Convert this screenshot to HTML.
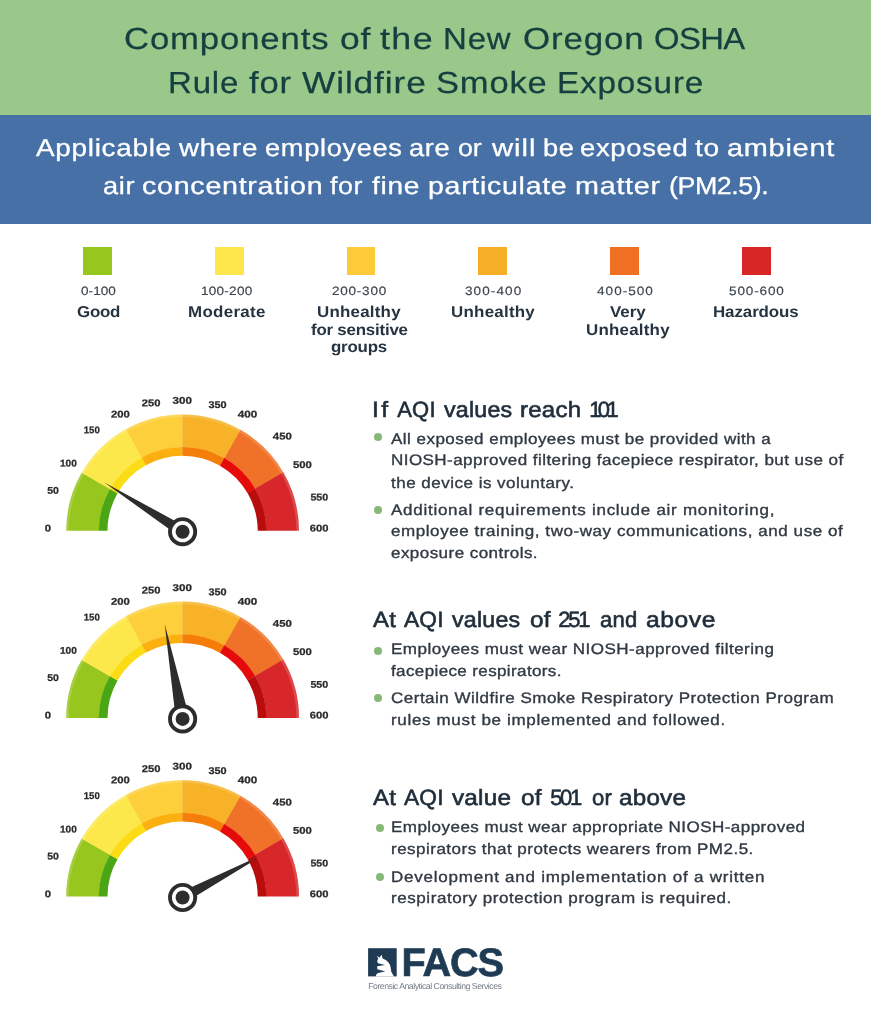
<!DOCTYPE html>
<html lang="en"><head><meta charset="utf-8"><title>Components of the New Oregon OSHA Rule for Wildfire Smoke Exposure</title>
<style>
html,body{margin:0;padding:0;background:#fff}
#page{position:relative;width:871px;height:1024px;overflow:hidden;background:#fff;font-family:"Liberation Sans",sans-serif;text-rendering:geometricPrecision}
h1,h2,p,ul,li{margin:0;padding:0;font-weight:normal;font-size:inherit;list-style:none}
.band{position:absolute;left:0;width:871px}
#green{top:0;height:115px;background:#99c88a}
#blue{top:115px;height:109px;background:#4771a6}
.ln{position:absolute;white-space:nowrap;line-height:1;transform-origin:0 0}
.t{color:#15403f;-webkit-text-stroke:0.25px #15403f}
.s{color:#fff;-webkit-text-stroke:0.3px #fff}
.r{color:#3b434c;-webkit-text-stroke:0.15px #3b434c}
.n{color:#263442;font-weight:bold}
.h{color:#1f2d3a;-webkit-text-stroke:0.6px #1f2d3a}
.b{color:#303943;-webkit-text-stroke:0.35px #303943}
.lg{color:#1f3b54;font-weight:bold;-webkit-text-stroke:0.7px #1f3b54}
.ls{color:#737d87}
.sw{position:absolute;top:246.5px;width:28.8px;height:28px}
.dot{position:absolute;width:8.2px;height:8.2px;border-radius:50%;background:#85b877}
svg{position:absolute;left:0;top:0}
.gl{font-family:"Liberation Sans",sans-serif;font-weight:bold;font-size:9.8px;fill:#2a2a2a;stroke:#2a2a2a;stroke-width:0.25px}

</style></head><body><div id="page">
<div class="band" id="green"></div><div class="band" id="blue"></div>
<h1><span class="ln t" id="l0" style="left:124.06px;top:23.67px;font-size:30.4px;letter-spacing:0.760px;transform:scaleX(1.1418);">Components</span> <span class="ln t" id="l1" style="left:339.83px;top:23.67px;font-size:30.4px;letter-spacing:0.760px;transform:scaleX(1.1652);">of</span> <span class="ln t" id="l2" style="left:380.10px;top:23.67px;font-size:30.4px;letter-spacing:1.192px;transform:scaleX(1.1800);">the</span> <span class="ln t" id="l3" style="left:442.73px;top:23.67px;font-size:30.4px;letter-spacing:0.760px;transform:scaleX(1.0852);">New</span> <span class="ln t" id="l4" style="left:522.95px;top:23.67px;font-size:30.4px;letter-spacing:0.760px;transform:scaleX(1.1480);">Oregon</span> <span class="ln t" id="l5" style="left:654.22px;top:23.67px;font-size:30.4px;letter-spacing:-0.563px;transform:scaleX(1.0800);">OSHA</span> <span class="ln t" id="l6" style="left:167.93px;top:67.57px;font-size:30.4px;letter-spacing:0.760px;transform:scaleX(1.0860);">Rule</span> <span class="ln t" id="l7" style="left:248.80px;top:67.57px;font-size:30.4px;letter-spacing:0.760px;transform:scaleX(1.1393);">for</span> <span class="ln t" id="l8" style="left:301.60px;top:67.57px;font-size:30.4px;letter-spacing:0.760px;transform:scaleX(1.1606);">Wildfire</span> <span class="ln t" id="l9" style="left:436.47px;top:67.57px;font-size:30.4px;letter-spacing:0.760px;transform:scaleX(1.1345);">Smoke</span> <span class="ln t" id="l10" style="left:557.31px;top:67.57px;font-size:30.4px;letter-spacing:0.760px;transform:scaleX(1.0940);">Exposure</span></h1>
<p><span class="ln s" id="l11" style="left:35.70px;top:136.55px;font-size:24.4px;letter-spacing:0.610px;transform:scaleX(1.1441);">Applicable</span> <span class="ln s" id="l12" style="left:179.14px;top:136.55px;font-size:24.4px;letter-spacing:0.610px;transform:scaleX(1.1370);">where</span> <span class="ln s" id="l13" style="left:264.89px;top:136.55px;font-size:24.4px;letter-spacing:0.610px;transform:scaleX(1.1148);">employees</span> <span class="ln s" id="l14" style="left:409.28px;top:136.55px;font-size:24.4px;letter-spacing:0.610px;transform:scaleX(1.1172);">are</span> <span class="ln s" id="l15" style="left:457.90px;top:136.55px;font-size:24.4px;letter-spacing:-0.110px;transform:scaleX(1.1000);">or</span> <span class="ln s" id="l16" style="left:491.50px;top:136.55px;font-size:24.4px;letter-spacing:0.794px;transform:scaleX(1.2000);">will</span> <span class="ln s" id="l17" style="left:542.68px;top:136.55px;font-size:24.4px;letter-spacing:0.610px;transform:scaleX(1.1156);">be</span> <span class="ln s" id="l18" style="left:579.88px;top:136.55px;font-size:24.4px;letter-spacing:0.610px;transform:scaleX(1.1242);">exposed</span> <span class="ln s" id="l19" style="left:694.60px;top:136.55px;font-size:24.4px;letter-spacing:0.610px;transform:scaleX(1.1527);">to</span> <span class="ln s" id="l20" style="left:727.21px;top:136.55px;font-size:24.4px;letter-spacing:0.610px;transform:scaleX(1.1856);">ambient</span> <span class="ln s" id="l21" style="left:102.99px;top:174.75px;font-size:24.4px;letter-spacing:0.610px;transform:scaleX(1.1138);">air</span> <span class="ln s" id="l22" style="left:142.03px;top:174.75px;font-size:24.4px;letter-spacing:0.610px;transform:scaleX(1.1746);">concentration</span> <span class="ln s" id="l23" style="left:330.00px;top:174.75px;font-size:24.4px;letter-spacing:0.466px;transform:scaleX(1.1000);">for</span> <span class="ln s" id="l24" style="left:372.10px;top:174.75px;font-size:24.4px;letter-spacing:0.610px;transform:scaleX(1.1530);">fine</span> <span class="ln s" id="l25" style="left:428.43px;top:174.75px;font-size:24.4px;letter-spacing:0.610px;transform:scaleX(1.1694);">particulate</span> <span class="ln s" id="l26" style="left:574.82px;top:174.75px;font-size:24.4px;letter-spacing:0.610px;transform:scaleX(1.1794);">matter</span> <span class="ln s" id="l27" style="left:668.80px;top:174.75px;font-size:24.4px;letter-spacing:-0.417px;transform:scaleX(1.1000);">(PM2.5).</span></p>
<ul id="legend">
<li><i class="sw" style="left:83.3px;background:#97c61e"></i><span class="ln r" id="l28" style="left:80.70px;top:285.46px;font-size:12.1px;letter-spacing:0.056px;transform:scaleX(1.1200);">0-100</span><b><span class="ln n" id="l34" style="left:76.55px;top:305.03px;font-size:15.8px;letter-spacing:-0.227px;transform:scaleX(1.0700);">Good</span></b></li>
<li><i class="sw" style="left:214.9px;background:#fde74c"></i><span class="ln r" id="l29" style="left:201.35px;top:285.46px;font-size:12.1px;letter-spacing:0.221px;transform:scaleX(1.1200);">100-200</span><b><span class="ln n" id="l35" style="left:188.43px;top:305.03px;font-size:15.8px;letter-spacing:0.307px;transform:scaleX(1.0700);">Moderate</span></b></li>
<li><i class="sw" style="left:346.6px;background:#fdcb3a"></i><span class="ln r" id="l30" style="left:331.95px;top:285.46px;font-size:12.1px;letter-spacing:0.667px;transform:scaleX(1.1200);">200-300</span><b><span class="ln n" id="l36" style="left:317.10px;top:305.03px;font-size:15.8px;letter-spacing:0.218px;transform:scaleX(1.0700);">Unhealthy</span> <span class="ln n" id="l37" style="left:310.70px;top:322.53px;font-size:15.8px;letter-spacing:-0.203px;transform:scaleX(1.0700);">for sensitive</span> <span class="ln n" id="l38" style="left:331.25px;top:340.03px;font-size:15.8px;letter-spacing:-0.188px;transform:scaleX(1.0700);">groups</span></b></li>
<li><i class="sw" style="left:478.3px;background:#f5ae25"></i><span class="ln r" id="l31" style="left:464.75px;top:285.46px;font-size:12.1px;letter-spacing:0.965px;transform:scaleX(1.1200);">300-400</span><b><span class="ln n" id="l39" style="left:451.00px;top:305.03px;font-size:15.8px;letter-spacing:0.241px;transform:scaleX(1.0700);">Unhealthy</span></b></li>
<li><i class="sw" style="left:610.3px;background:#f07023"></i><span class="ln r" id="l32" style="left:596.50px;top:285.46px;font-size:12.1px;letter-spacing:0.920px;transform:scaleX(1.1200);">400-500</span><b><span class="ln n" id="l40" style="left:609.50px;top:305.03px;font-size:15.8px;letter-spacing:-0.047px;transform:scaleX(1.0700);">Very</span> <span class="ln n" id="l41" style="left:585.50px;top:322.53px;font-size:15.8px;letter-spacing:0.218px;transform:scaleX(1.0700);">Unhealthy</span></b></li>
<li><i class="sw" style="left:742.0px;background:#d72626"></i><span class="ln r" id="l33" style="left:728.80px;top:285.46px;font-size:12.1px;letter-spacing:0.771px;transform:scaleX(1.1200);">500-600</span><b><span class="ln n" id="l42" style="left:713.48px;top:305.03px;font-size:15.8px;letter-spacing:-0.078px;transform:scaleX(1.0700);">Hazardous</span></b></li>
</ul>
<svg width="871" height="1024" viewBox="0 0 871 1024">
<g id="gauge1">
<path d="M66.20 530.80A116.4 116.4 0 0 1 81.79 472.60L110.29 489.05A83.5 83.5 0 0 0 99.10 530.80Z" fill="#97c61e"/>
<path d="M98.80 530.80A83.8 83.8 0 0 1 110.03 488.90L117.56 493.25A75.1 75.1 0 0 0 107.50 530.80Z" fill="#4aa614"/>
<path d="M81.64 472.86A116.4 116.4 0 0 1 126.17 428.99L142.12 457.77A83.5 83.5 0 0 0 110.18 489.24Z" fill="#fde84b"/>
<path d="M109.92 489.09A83.8 83.8 0 0 1 141.97 457.51L146.19 465.12A75.1 75.1 0 0 0 117.46 493.42Z" fill="#fcdc15"/>
<path d="M125.90 429.14A116.4 116.4 0 0 1 182.60 414.40L182.60 447.30A83.5 83.5 0 0 0 141.93 457.88Z" fill="#fdd03b"/>
<path d="M141.78 457.61A83.8 83.8 0 0 1 182.60 447.00L182.60 455.70A75.1 75.1 0 0 0 146.02 465.21Z" fill="#fcb010"/>
<path d="M182.30 414.40A116.4 116.4 0 0 1 240.80 429.99L224.35 458.49A83.5 83.5 0 0 0 182.38 447.30Z" fill="#f7b228"/>
<path d="M182.38 447.00A83.8 83.8 0 0 1 224.50 458.23L220.15 465.76A75.1 75.1 0 0 0 182.40 455.70Z" fill="#f57e0b"/>
<path d="M240.54 429.84A116.4 116.4 0 0 1 283.41 472.60L254.91 489.05A83.5 83.5 0 0 0 224.16 458.38Z" fill="#f07128"/>
<path d="M224.31 458.12A83.8 83.8 0 0 1 255.17 488.90L247.64 493.25A75.1 75.1 0 0 0 219.98 465.66Z" fill="#e60a0a"/>
<path d="M283.25 472.34A116.4 116.4 0 0 1 299.00 530.80L266.10 530.80A83.5 83.5 0 0 0 254.80 488.86Z" fill="#d8272a"/>
<path d="M255.06 488.71A83.8 83.8 0 0 1 266.40 530.80L257.70 530.80A75.1 75.1 0 0 0 247.54 493.08Z" fill="#b90c0c"/>
<path d="M67.50 530.80A115.10000000000001 115.10000000000001 0 0 1 297.70 530.80" fill="none" stroke="#fff" stroke-opacity="0.16" stroke-width="2.6"/>
<path d="M104.40 482.40L185.69 526.79L179.51 536.61Z" fill="#2d2d2d"/>
<circle cx="182.60" cy="531.70" r="12.6" fill="#fff" stroke="#2d2d2d" stroke-width="3.9"/><circle cx="182.60" cy="531.70" r="7" fill="#2d2d2d"/>
<text class="gl" x="48.0" y="531.4" text-anchor="middle" textLength="6.3" lengthAdjust="spacingAndGlyphs" transform="rotate(0.03 48.0 527.8)">0</text>
<text class="gl" x="53.0" y="493.7" text-anchor="middle" textLength="11.7" lengthAdjust="spacingAndGlyphs" transform="rotate(0.03 53.0 490.1)">50</text>
<text class="gl" x="68.4" y="466.6" text-anchor="middle" textLength="16.8" lengthAdjust="spacingAndGlyphs" transform="rotate(0.03 68.4 463.0)">100</text>
<text class="gl" x="91.8" y="433.2" text-anchor="middle" textLength="16" lengthAdjust="spacingAndGlyphs" transform="rotate(0.03 91.8 429.6)">150</text>
<text class="gl" x="120.5" y="417.5" text-anchor="middle" textLength="18.8" lengthAdjust="spacingAndGlyphs" transform="rotate(0.03 120.5 413.9)">200</text>
<text class="gl" x="151.2" y="406.2" text-anchor="middle" textLength="18.7" lengthAdjust="spacingAndGlyphs" transform="rotate(0.03 151.2 402.6)">250</text>
<text class="gl" x="182.3" y="403.8" text-anchor="middle" textLength="19.4" lengthAdjust="spacingAndGlyphs" transform="rotate(0.03 182.3 400.2)">300</text>
<text class="gl" x="217.5" y="408.1" text-anchor="middle" textLength="18.2" lengthAdjust="spacingAndGlyphs" transform="rotate(0.03 217.5 404.5)">350</text>
<text class="gl" x="247.6" y="417.5" text-anchor="middle" textLength="19.5" lengthAdjust="spacingAndGlyphs" transform="rotate(0.03 247.6 413.9)">400</text>
<text class="gl" x="282.4" y="439.6" text-anchor="middle" textLength="19.1" lengthAdjust="spacingAndGlyphs" transform="rotate(0.03 282.4 436.0)">450</text>
<text class="gl" x="302.4" y="467.9" text-anchor="middle" textLength="18.9" lengthAdjust="spacingAndGlyphs" transform="rotate(0.03 302.4 464.3)">500</text>
<text class="gl" x="319.3" y="500.6" text-anchor="middle" textLength="17.8" lengthAdjust="spacingAndGlyphs" transform="rotate(0.03 319.3 497.0)">550</text>
<text class="gl" x="319.1" y="531.4" text-anchor="middle" textLength="18.7" lengthAdjust="spacingAndGlyphs" transform="rotate(0.03 319.1 527.8)">600</text>
</g>
<g id="gauge2">
<path d="M66.20 718.00A116.4 116.4 0 0 1 81.79 659.80L110.29 676.25A83.5 83.5 0 0 0 99.10 718.00Z" fill="#97c61e"/>
<path d="M98.80 718.00A83.8 83.8 0 0 1 110.03 676.10L117.56 680.45A75.1 75.1 0 0 0 107.50 718.00Z" fill="#4aa614"/>
<path d="M81.64 660.06A116.4 116.4 0 0 1 126.17 616.19L142.12 644.97A83.5 83.5 0 0 0 110.18 676.44Z" fill="#fde84b"/>
<path d="M109.92 676.29A83.8 83.8 0 0 1 141.97 644.71L146.19 652.32A75.1 75.1 0 0 0 117.46 680.62Z" fill="#fcdc15"/>
<path d="M125.90 616.34A116.4 116.4 0 0 1 182.60 601.60L182.60 634.50A83.5 83.5 0 0 0 141.93 645.08Z" fill="#fdd03b"/>
<path d="M141.78 644.81A83.8 83.8 0 0 1 182.60 634.20L182.60 642.90A75.1 75.1 0 0 0 146.02 652.41Z" fill="#fcb010"/>
<path d="M182.30 601.60A116.4 116.4 0 0 1 240.80 617.19L224.35 645.69A83.5 83.5 0 0 0 182.38 634.50Z" fill="#f7b228"/>
<path d="M182.38 634.20A83.8 83.8 0 0 1 224.50 645.43L220.15 652.96A75.1 75.1 0 0 0 182.40 642.90Z" fill="#f57e0b"/>
<path d="M240.54 617.04A116.4 116.4 0 0 1 283.41 659.80L254.91 676.25A83.5 83.5 0 0 0 224.16 645.58Z" fill="#f07128"/>
<path d="M224.31 645.32A83.8 83.8 0 0 1 255.17 676.10L247.64 680.45A75.1 75.1 0 0 0 219.98 652.86Z" fill="#e60a0a"/>
<path d="M283.25 659.54A116.4 116.4 0 0 1 299.00 718.00L266.10 718.00A83.5 83.5 0 0 0 254.80 676.06Z" fill="#d8272a"/>
<path d="M255.06 675.91A83.8 83.8 0 0 1 266.40 718.00L257.70 718.00A75.1 75.1 0 0 0 247.54 680.28Z" fill="#b90c0c"/>
<path d="M67.50 718.00A115.10000000000001 115.10000000000001 0 0 1 297.70 718.00" fill="none" stroke="#fff" stroke-opacity="0.16" stroke-width="2.6"/>
<path d="M164.70 623.90L189.28 717.64L175.92 720.16Z" fill="#2d2d2d"/>
<circle cx="182.60" cy="718.90" r="12.6" fill="#fff" stroke="#2d2d2d" stroke-width="3.9"/><circle cx="182.60" cy="718.90" r="7" fill="#2d2d2d"/>
<text class="gl" x="48.0" y="718.6" text-anchor="middle" textLength="6.3" lengthAdjust="spacingAndGlyphs" transform="rotate(0.03 48.0 715.0)">0</text>
<text class="gl" x="53.0" y="680.9" text-anchor="middle" textLength="11.7" lengthAdjust="spacingAndGlyphs" transform="rotate(0.03 53.0 677.3)">50</text>
<text class="gl" x="68.4" y="653.8" text-anchor="middle" textLength="16.8" lengthAdjust="spacingAndGlyphs" transform="rotate(0.03 68.4 650.2)">100</text>
<text class="gl" x="91.8" y="620.4" text-anchor="middle" textLength="16" lengthAdjust="spacingAndGlyphs" transform="rotate(0.03 91.8 616.8)">150</text>
<text class="gl" x="120.5" y="604.7" text-anchor="middle" textLength="18.8" lengthAdjust="spacingAndGlyphs" transform="rotate(0.03 120.5 601.1)">200</text>
<text class="gl" x="151.2" y="593.4" text-anchor="middle" textLength="18.7" lengthAdjust="spacingAndGlyphs" transform="rotate(0.03 151.2 589.8)">250</text>
<text class="gl" x="182.3" y="591.0" text-anchor="middle" textLength="19.4" lengthAdjust="spacingAndGlyphs" transform="rotate(0.03 182.3 587.4)">300</text>
<text class="gl" x="217.5" y="595.3" text-anchor="middle" textLength="18.2" lengthAdjust="spacingAndGlyphs" transform="rotate(0.03 217.5 591.7)">350</text>
<text class="gl" x="247.6" y="604.7" text-anchor="middle" textLength="19.5" lengthAdjust="spacingAndGlyphs" transform="rotate(0.03 247.6 601.1)">400</text>
<text class="gl" x="282.4" y="626.8" text-anchor="middle" textLength="19.1" lengthAdjust="spacingAndGlyphs" transform="rotate(0.03 282.4 623.2)">450</text>
<text class="gl" x="302.4" y="655.1" text-anchor="middle" textLength="18.9" lengthAdjust="spacingAndGlyphs" transform="rotate(0.03 302.4 651.5)">500</text>
<text class="gl" x="319.3" y="687.8" text-anchor="middle" textLength="17.8" lengthAdjust="spacingAndGlyphs" transform="rotate(0.03 319.3 684.2)">550</text>
<text class="gl" x="319.1" y="718.6" text-anchor="middle" textLength="18.7" lengthAdjust="spacingAndGlyphs" transform="rotate(0.03 319.1 715.0)">600</text>
</g>
<g id="gauge3">
<path d="M265.61 853.40L185.27 902.53L179.93 892.47Z" fill="#2d2d2d"/>
<path d="M66.20 896.60A116.4 116.4 0 0 1 81.79 838.40L110.29 854.85A83.5 83.5 0 0 0 99.10 896.60Z" fill="#97c61e"/>
<path d="M98.80 896.60A83.8 83.8 0 0 1 110.03 854.70L117.56 859.05A75.1 75.1 0 0 0 107.50 896.60Z" fill="#4aa614"/>
<path d="M81.64 838.66A116.4 116.4 0 0 1 126.17 794.79L142.12 823.57A83.5 83.5 0 0 0 110.18 855.04Z" fill="#fde84b"/>
<path d="M109.92 854.89A83.8 83.8 0 0 1 141.97 823.31L146.19 830.92A75.1 75.1 0 0 0 117.46 859.22Z" fill="#fcdc15"/>
<path d="M125.90 794.94A116.4 116.4 0 0 1 182.60 780.20L182.60 813.10A83.5 83.5 0 0 0 141.93 823.68Z" fill="#fdd03b"/>
<path d="M141.78 823.41A83.8 83.8 0 0 1 182.60 812.80L182.60 821.50A75.1 75.1 0 0 0 146.02 831.01Z" fill="#fcb010"/>
<path d="M182.30 780.20A116.4 116.4 0 0 1 240.80 795.79L224.35 824.29A83.5 83.5 0 0 0 182.38 813.10Z" fill="#f7b228"/>
<path d="M182.38 812.80A83.8 83.8 0 0 1 224.50 824.03L220.15 831.56A75.1 75.1 0 0 0 182.40 821.50Z" fill="#f57e0b"/>
<path d="M240.54 795.64A116.4 116.4 0 0 1 283.41 838.40L254.91 854.85A83.5 83.5 0 0 0 224.16 824.18Z" fill="#f07128"/>
<path d="M224.31 823.92A83.8 83.8 0 0 1 255.17 854.70L247.64 859.05A75.1 75.1 0 0 0 219.98 831.46Z" fill="#e60a0a"/>
<path d="M283.25 838.14A116.4 116.4 0 0 1 299.00 896.60L266.10 896.60A83.5 83.5 0 0 0 254.80 854.66Z" fill="#d8272a"/>
<path d="M255.06 854.51A83.8 83.8 0 0 1 266.40 896.60L257.70 896.60A75.1 75.1 0 0 0 247.54 858.88Z" fill="#b90c0c"/>
<path d="M67.50 896.60A115.10000000000001 115.10000000000001 0 0 1 297.70 896.60" fill="none" stroke="#fff" stroke-opacity="0.16" stroke-width="2.6"/>
<path d="M257.07 858.63L185.27 902.53L179.93 892.47L256.50 857.56Z" fill="#2d2d2d" fill-opacity="0.35"/>
<circle cx="182.60" cy="897.50" r="12.6" fill="#fff" stroke="#2d2d2d" stroke-width="3.9"/><circle cx="182.60" cy="897.50" r="7" fill="#2d2d2d"/>
<text class="gl" x="48.0" y="897.2" text-anchor="middle" textLength="6.3" lengthAdjust="spacingAndGlyphs" transform="rotate(0.03 48.0 893.6)">0</text>
<text class="gl" x="53.0" y="859.5" text-anchor="middle" textLength="11.7" lengthAdjust="spacingAndGlyphs" transform="rotate(0.03 53.0 855.9)">50</text>
<text class="gl" x="68.4" y="832.4" text-anchor="middle" textLength="16.8" lengthAdjust="spacingAndGlyphs" transform="rotate(0.03 68.4 828.8)">100</text>
<text class="gl" x="91.8" y="799.0" text-anchor="middle" textLength="16" lengthAdjust="spacingAndGlyphs" transform="rotate(0.03 91.8 795.4)">150</text>
<text class="gl" x="120.5" y="783.3" text-anchor="middle" textLength="18.8" lengthAdjust="spacingAndGlyphs" transform="rotate(0.03 120.5 779.7)">200</text>
<text class="gl" x="151.2" y="772.0" text-anchor="middle" textLength="18.7" lengthAdjust="spacingAndGlyphs" transform="rotate(0.03 151.2 768.4)">250</text>
<text class="gl" x="182.3" y="769.6" text-anchor="middle" textLength="19.4" lengthAdjust="spacingAndGlyphs" transform="rotate(0.03 182.3 766.0)">300</text>
<text class="gl" x="217.5" y="773.9" text-anchor="middle" textLength="18.2" lengthAdjust="spacingAndGlyphs" transform="rotate(0.03 217.5 770.3)">350</text>
<text class="gl" x="247.6" y="783.3" text-anchor="middle" textLength="19.5" lengthAdjust="spacingAndGlyphs" transform="rotate(0.03 247.6 779.7)">400</text>
<text class="gl" x="282.4" y="805.4" text-anchor="middle" textLength="19.1" lengthAdjust="spacingAndGlyphs" transform="rotate(0.03 282.4 801.8)">450</text>
<text class="gl" x="302.4" y="833.7" text-anchor="middle" textLength="18.9" lengthAdjust="spacingAndGlyphs" transform="rotate(0.03 302.4 830.1)">500</text>
<text class="gl" x="319.3" y="866.4" text-anchor="middle" textLength="17.8" lengthAdjust="spacingAndGlyphs" transform="rotate(0.03 319.3 862.8)">550</text>
<text class="gl" x="319.1" y="897.2" text-anchor="middle" textLength="18.7" lengthAdjust="spacingAndGlyphs" transform="rotate(0.03 319.1 893.6)">600</text>
</g>
<g id="logo"><rect x="368.1" y="948.2" width="28.6" height="28.2" fill="#1f3b54"/><path d="M375.8 976.4C376 974.6 377 973.3 379 972.8L385.4 971.6L377.3 969.2L377.1 966.2L385 965L378 963.2C376.8 961.5 377.2 960 378.3 958.8L376.9 955.6L379.4 957.8L381.6 954.8L382.6 958.4C385.5 959.5 388.5 961.5 389.8 964.5C391 967.5 391 970 391.4 972L394.1 976.4Z" fill="#fff"/></g>
</svg>
<section><h2><span class="ln h" id="l43" style="left:371.86px;top:398.68px;font-size:22px;letter-spacing:2.191px;transform:scaleX(1.1200);">If</span> <span class="ln h" id="l44" style="left:397.20px;top:398.68px;font-size:22px;letter-spacing:0.207px;transform:scaleX(1.0000);">AQI</span> <span class="ln h" id="l45" style="left:443.50px;top:398.68px;font-size:22px;letter-spacing:0.220px;transform:scaleX(1.0542);">values</span> <span class="ln h" id="l46" style="left:520.21px;top:398.68px;font-size:22px;letter-spacing:0.220px;transform:scaleX(1.0936);">reach</span> <span class="ln h" id="l47" style="left:589.30px;top:398.68px;font-size:22px;letter-spacing:-3.685px;transform:scaleX(1.0000);">101</span></h2><ul>
<li><i class="dot" style="left:373.5px;top:433.0px"></i><span class="ln b" id="l62" style="left:391.40px;top:431.93px;font-size:15.2px;letter-spacing:0.414px;transform:scaleX(1.1200);">All exposed employees must be provided with a</span> <span class="ln b" id="l63" style="left:390.98px;top:452.53px;font-size:15.2px;letter-spacing:0.395px;transform:scaleX(1.1200);">NIOSH-approved filtering facepiece respirator, but use of</span> <span class="ln b" id="l64" style="left:391.40px;top:475.73px;font-size:15.2px;letter-spacing:0.435px;transform:scaleX(1.1200);">the device is voluntary.</span></li>
<li><i class="dot" style="left:373.5px;top:506.0px"></i><span class="ln b" id="l65" style="left:391.40px;top:502.83px;font-size:15.2px;letter-spacing:0.651px;transform:scaleX(1.1200);">Additional requirements include air monitoring,</span> <span class="ln b" id="l66" style="left:391.40px;top:523.63px;font-size:15.2px;letter-spacing:0.500px;transform:scaleX(1.1200);">employee training, two-way communications, and use of</span> <span class="ln b" id="l67" style="left:391.40px;top:545.53px;font-size:15.2px;letter-spacing:0.398px;transform:scaleX(1.1200);">exposure controls.</span></li>
</ul></section>
<section><h2><span class="ln h" id="l48" style="left:373.30px;top:609.48px;font-size:22px;letter-spacing:0.220px;transform:scaleX(1.0864);">At</span> <span class="ln h" id="l49" style="left:404.30px;top:609.48px;font-size:22px;letter-spacing:0.220px;transform:scaleX(1.0315);">AQI</span> <span class="ln h" id="l50" style="left:451.80px;top:609.48px;font-size:22px;letter-spacing:0.220px;transform:scaleX(1.0542);">values</span> <span class="ln h" id="l51" style="left:530.40px;top:609.48px;font-size:22px;letter-spacing:0.220px;transform:scaleX(1.1051);">of</span> <span class="ln h" id="l52" style="left:558.30px;top:609.48px;font-size:22px;letter-spacing:-2.235px;transform:scaleX(1.0000);">251</span> <span class="ln h" id="l53" style="left:599.80px;top:609.48px;font-size:22px;letter-spacing:0.220px;transform:scaleX(1.0025);">and</span> <span class="ln h" id="l54" style="left:646.10px;top:609.48px;font-size:22px;letter-spacing:0.498px;transform:scaleX(1.1200);">above</span></h2><ul>
<li><i class="dot" style="left:373.5px;top:646.6px"></i><span class="ln b" id="l68" style="left:390.98px;top:642.23px;font-size:15.2px;letter-spacing:0.433px;transform:scaleX(1.1200);">Employees must wear NIOSH-approved filtering</span> <span class="ln b" id="l69" style="left:391.40px;top:663.83px;font-size:15.2px;letter-spacing:0.334px;transform:scaleX(1.1200);">facepiece respirators.</span></li>
<li><i class="dot" style="left:373.5px;top:694.1px"></i><span class="ln b" id="l70" style="left:391.40px;top:690.93px;font-size:15.2px;letter-spacing:0.442px;transform:scaleX(1.1200);">Certain Wildfire Smoke Respiratory Protection Program</span> <span class="ln b" id="l71" style="left:390.98px;top:712.73px;font-size:15.2px;letter-spacing:0.588px;transform:scaleX(1.1200);">rules must be implemented and followed.</span></li>
</ul></section>
<section><h2><span class="ln h" id="l55" style="left:373.30px;top:787.28px;font-size:22px;letter-spacing:0.220px;transform:scaleX(1.0864);">At</span> <span class="ln h" id="l56" style="left:404.30px;top:787.28px;font-size:22px;letter-spacing:0.220px;transform:scaleX(1.0315);">AQI</span> <span class="ln h" id="l57" style="left:451.80px;top:787.28px;font-size:22px;letter-spacing:0.220px;transform:scaleX(1.1026);">value</span> <span class="ln h" id="l58" style="left:521.30px;top:787.28px;font-size:22px;letter-spacing:0.220px;transform:scaleX(1.1051);">of</span> <span class="ln h" id="l59" style="left:550.20px;top:787.28px;font-size:22px;letter-spacing:-2.335px;transform:scaleX(1.0000);">501</span> <span class="ln h" id="l60" style="left:591.50px;top:787.28px;font-size:22px;letter-spacing:0.220px;transform:scaleX(1.0023);">or</span> <span class="ln h" id="l61" style="left:619.20px;top:787.28px;font-size:22px;letter-spacing:0.220px;transform:scaleX(1.0993);">above</span></h2><ul>
<li><i class="dot" style="left:375.8px;top:823.6px"></i><span class="ln b" id="l72" style="left:390.98px;top:819.93px;font-size:15.2px;letter-spacing:0.411px;transform:scaleX(1.1200);">Employees must wear appropriate NIOSH-approved</span> <span class="ln b" id="l73" style="left:390.98px;top:841.83px;font-size:15.2px;letter-spacing:0.427px;transform:scaleX(1.1200);">respirators that protects wearers from PM2.5.</span></li>
<li><i class="dot" style="left:375.8px;top:873.0px"></i><span class="ln b" id="l74" style="left:390.98px;top:869.83px;font-size:15.2px;letter-spacing:0.682px;transform:scaleX(1.1200);">Development and implementation of a written</span> <span class="ln b" id="l75" style="left:390.98px;top:891.13px;font-size:15.2px;letter-spacing:0.499px;transform:scaleX(1.1200);">respiratory protection program is required.</span></li>
</ul></section>
<footer><span class="ln lg" id="l76" style="left:401.50px;top:943.69px;font-size:39.7px;letter-spacing:-1.158px;transform:scaleX(1.0000);">FACS</span> <span class="ln ls" id="l77" style="left:368.20px;top:981.54px;font-size:8.7px;letter-spacing:-0.472px;transform:scaleX(1.0000);">Forensic Analytical Consulting Services</span></footer>
</div></body></html>
